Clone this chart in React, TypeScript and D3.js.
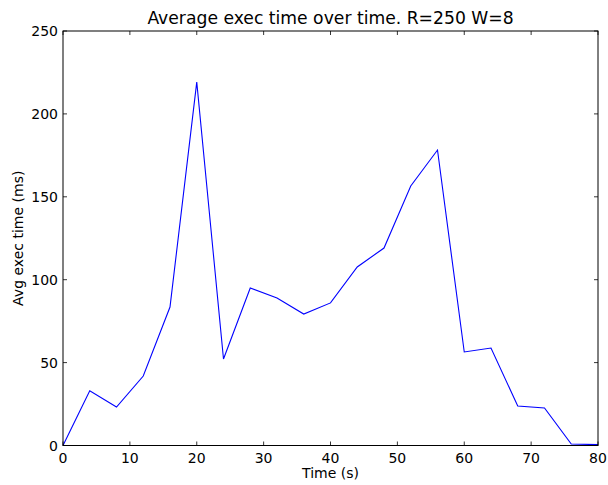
import React, { useRef, useEffect } from 'react';
import * as d3 from 'd3';

const times = [0, 4, 8, 12, 16, 20, 24, 28, 32, 36, 40, 44, 48, 52, 56, 60, 64, 68, 72, 76, 80];
const avgExec = [0, 33, 23.2, 41.9, 83.5, 219.2, 52.2, 95, 89, 79.3, 86, 107.7, 119.1, 156.5, 178.2, 56.4, 58.8, 23.8, 22.6, 0.9, 0.5];
const xTicks = [0, 10, 20, 30, 40, 50, 60, 70, 80];
const yTicks = [0, 50, 100, 150, 200, 250];

export default function App() {
  const ref = useRef<SVGSVGElement>(null);

  useEffect(() => {
    if (!ref.current) return;
    const width = 608;
    const height = 485;
    const margin = { top: 31, right: 10, bottom: 39.5, left: 63 };
    const svg = d3.select(ref.current);
    svg.selectAll('*').remove();

    const x = d3.scaleLinear().domain([0, 80]).range([margin.left, width - margin.right]);
    const y = d3.scaleLinear().domain([0, 250]).range([height - margin.bottom, margin.top]);
    const font = 'DejaVu Sans, sans-serif';

    // line
    const line = d3.line<number>()
      .x((_, i) => x(times[i]))
      .y(d => y(d));
    svg.append('path')
      .datum(avgExec)
      .attr('d', line)
      .attr('fill', 'none')
      .attr('stroke', '#0000ff')
      .attr('stroke-width', 1.1);

    // ticks, inside on all four sides
    const tickLen = 4;
    const axes = svg.append('g').attr('stroke', '#000').attr('stroke-width', 0.8);
    xTicks.forEach(t => {
      axes.append('line').attr('x1', x(t)).attr('x2', x(t)).attr('y1', y(0)).attr('y2', y(0) - tickLen);
      axes.append('line').attr('x1', x(t)).attr('x2', x(t)).attr('y1', y(250)).attr('y2', y(250) + tickLen);
    });
    yTicks.forEach(t => {
      axes.append('line').attr('x1', x(0)).attr('x2', x(0) + tickLen).attr('y1', y(t)).attr('y2', y(t));
      axes.append('line').attr('x1', x(80)).attr('x2', x(80) - tickLen).attr('y1', y(t)).attr('y2', y(t));
    });

    // frame
    svg.append('rect')
      .attr('x', x(0)).attr('y', y(250))
      .attr('width', x(80) - x(0)).attr('height', y(0) - y(250))
      .attr('fill', 'none').attr('stroke', '#000').attr('stroke-width', 1);

    // tick labels
    svg.append('g').selectAll('text').data(xTicks).enter().append('text')
      .attr('x', d => x(d)).attr('y', y(0) + 17)
      .attr('text-anchor', 'middle')
      .style('font-family', font).style('font-size', '14px')
      .text(d => d);
    svg.append('g').selectAll('text').data(yTicks).enter().append('text')
      .attr('x', x(0) - 5).attr('y', d => y(d) + 5)
      .attr('text-anchor', 'end')
      .style('font-family', font).style('font-size', '14px')
      .text(d => d);

    // labels
    svg.append('text')
      .attr('x', (x(0) + x(80)) / 2).attr('y', 24)
      .attr('text-anchor', 'middle')
      .style('font-family', font).style('font-size', '17.2px')
      .text('Average exec time over time. R=250 W=8');
    svg.append('text')
      .attr('x', (x(0) + x(80)) / 2).attr('y', 478)
      .attr('text-anchor', 'middle')
      .style('font-family', font).style('font-size', '14px')
      .text('Time (s)');
    svg.append('text')
      .attr('transform', `translate(23, ${(y(0) + y(250)) / 2}) rotate(-90)`)
      .attr('text-anchor', 'middle')
      .style('font-family', font).style('font-size', '14px')
      .text('Avg exec time (ms)');
  }, []);

  return (
    <svg ref={ref} width={608} height={485}
      style={{ position: 'absolute', left: 0, top: 0, background: '#fff' }} />
  );
}
